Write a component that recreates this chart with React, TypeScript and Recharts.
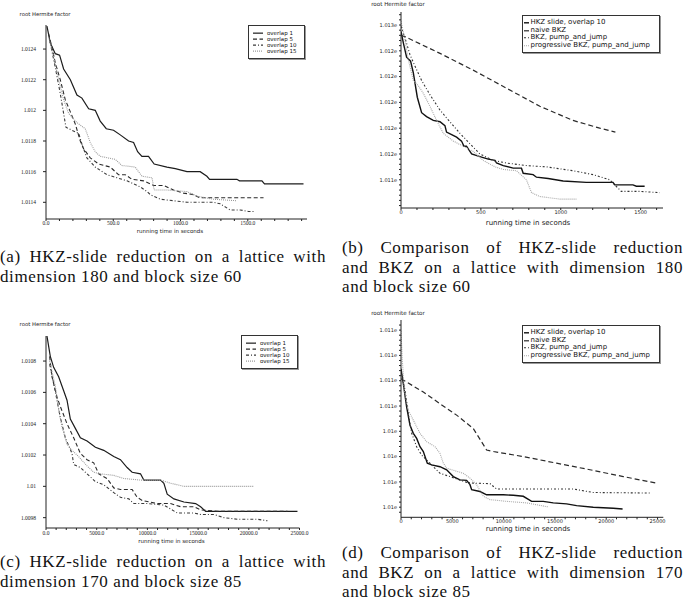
import { LineChart, Line, XAxis, YAxis, Legend } from 'recharts'

type Pt = [number, number]
type Series = { name: string; data: Pt[]; stroke: string; dash?: string; width: number }

// (a) dimension 180, block size 60 — [seconds, root Hermite factor]
const aOverlap1: Pt[] = [[7, 1.01255], [32, 1.01244], [69, 1.01237], [101, 1.01236], [131, 1.01227], [181, 1.0122], [230, 1.0121], [267, 1.01208], [317, 1.01201], [366, 1.012], [403, 1.01193], [448, 1.01188], [502, 1.01187], [552, 1.01184], [614, 1.0118], [651, 1.01179], [681, 1.01173], [713, 1.0117], [762, 1.0117], [804, 1.01165], [899, 1.01163], [961, 1.01162], [1048, 1.0116], [1146, 1.0116], [1196, 1.01157], [1216, 1.01155], [1419, 1.01155], [1438, 1.01154], [1605, 1.01154], [1624, 1.01152], [1914, 1.01152]]
const aOverlap5: Pt[] = [[19, 1.0125], [45, 1.01241], [69, 1.01231], [106, 1.0122], [143, 1.01207], [181, 1.01199], [218, 1.01191], [255, 1.0118], [279, 1.01175], [329, 1.01169], [391, 1.01165], [478, 1.01163], [539, 1.01158], [589, 1.01158], [639, 1.01155], [725, 1.01154], [800, 1.01151], [874, 1.01151], [948, 1.01148], [1022, 1.01146], [1097, 1.01145], [1141, 1.01143], [1295, 1.01143], [1617, 1.01143]]
const aOverlap10: Pt[] = [[27, 1.01246], [69, 1.01228], [106, 1.01211], [131, 1.01198], [148, 1.01189], [193, 1.01187], [243, 1.01185], [267, 1.01178], [304, 1.01169], [366, 1.01163], [453, 1.01158], [527, 1.01156], [602, 1.01154], [701, 1.0115], [751, 1.01147], [775, 1.01145], [849, 1.01142], [948, 1.01141], [1048, 1.0114], [1245, 1.0114], [1295, 1.01139], [1369, 1.01135], [1443, 1.01135], [1505, 1.01134], [1555, 1.01134]]
const aOverlap15: Pt[] = [[19, 1.01248], [57, 1.01235], [94, 1.0122], [131, 1.01207], [168, 1.01198], [230, 1.01192], [292, 1.01188], [329, 1.01179], [366, 1.01173], [403, 1.0117], [515, 1.01168], [564, 1.01164], [663, 1.01163], [713, 1.01157], [788, 1.01156], [804, 1.01148], [899, 1.01148], [1048, 1.01147], [1122, 1.01144], [1245, 1.01142], [1419, 1.01141]]

// (b) comparison, dimension 180
const bHkz: Pt[] = [[0, 1.01295], [15, 1.01286], [35, 1.01275], [60, 1.01272], [77, 1.01263], [102, 1.01244], [129, 1.01232], [160, 1.01229], [202, 1.01226], [244, 1.01225], [275, 1.01222], [285, 1.01217], [317, 1.01215], [348, 1.01213], [379, 1.0121], [394, 1.01206], [410, 1.01206], [442, 1.012], [494, 1.01198], [546, 1.01196], [588, 1.01195], [598, 1.01193], [640, 1.01191], [702, 1.01189], [754, 1.01189], [765, 1.01185], [827, 1.01184], [848, 1.01182], [921, 1.01181], [1015, 1.01179], [1160, 1.01178], [1327, 1.01178], [1338, 1.01176], [1452, 1.01176], [1473, 1.01175], [1525, 1.01175]]
const bNaive: Pt[] = [[0, 1.01292], [25, 1.01291], [244, 1.01278], [452, 1.01265], [660, 1.01251], [869, 1.01237], [1077, 1.01226], [1244, 1.0122], [1342, 1.01217]]
const bPump: Pt[] = [[0, 1.01299], [25, 1.0129], [56, 1.01277], [88, 1.01268], [129, 1.01257], [181, 1.01246], [244, 1.01234], [306, 1.01225], [369, 1.01216], [431, 1.01208], [494, 1.012], [577, 1.01195], [660, 1.01193], [785, 1.01191], [910, 1.0119], [1077, 1.01187], [1202, 1.01184], [1306, 1.0118], [1379, 1.01171], [1494, 1.01171], [1619, 1.0117]]
const bProg: Pt[] = [[0, 1.01303], [25, 1.01288], [46, 1.01273], [77, 1.01257], [108, 1.01253], [140, 1.01247], [181, 1.01237], [223, 1.01226], [265, 1.01216], [327, 1.0121], [390, 1.01206], [452, 1.01202], [515, 1.01195], [588, 1.0119], [640, 1.01188], [723, 1.01187], [785, 1.0118], [817, 1.0117], [869, 1.01167], [931, 1.01166], [994, 1.01165], [1098, 1.01165]]

// (c) dimension 170, block size 85
const cOverlap1: Pt[] = [[94, 1.01096], [424, 1.01083], [754, 1.01076], [1248, 1.0107], [1742, 1.01061], [2072, 1.01055], [2401, 1.01043], [2895, 1.01037], [3389, 1.01031], [4048, 1.01029], [4871, 1.01025], [5695, 1.01023], [6683, 1.01019], [7342, 1.01017], [8001, 1.01012], [8495, 1.01009], [9319, 1.01008], [9648, 1.01004], [11295, 1.01004], [11625, 1.01002], [11954, 1.00995], [12613, 1.00992], [13601, 1.0099], [14754, 1.00989], [15248, 1.00987], [15742, 1.00984], [24800, 1.00984]]
const cOverlap5: Pt[] = [[358, 1.01083], [589, 1.0107], [1083, 1.01057], [1412, 1.01051], [2072, 1.0104], [2730, 1.01031], [3389, 1.01021], [4048, 1.01017], [4707, 1.01015], [5201, 1.01008], [6025, 1.01005], [6683, 1.00999], [7342, 1.00998], [8495, 1.00998], [8989, 1.00993], [9483, 1.00991], [10966, 1.00989], [12284, 1.00989], [13272, 1.00987], [14590, 1.00987], [15248, 1.00985], [16895, 1.00984], [23813, 1.00984]]
const cOverlap10: Pt[] = [[358, 1.01078], [754, 1.01066], [1083, 1.01055], [1412, 1.01044], [1907, 1.01031], [2566, 1.01021], [2730, 1.01014], [3389, 1.01012], [4048, 1.01008], [4871, 1.01003], [5695, 1.01001], [6683, 1.00996], [7342, 1.00993], [8166, 1.00992], [8660, 1.00989], [9978, 1.00989], [11625, 1.00988], [12943, 1.00983], [14590, 1.00983], [15248, 1.00982], [16566, 1.00982], [17554, 1.0098], [18872, 1.00979], [20849, 1.00979], [21837, 1.00978]]
const cOverlap15: Pt[] = [[358, 1.0108], [919, 1.01064], [1248, 1.01049], [1577, 1.01038], [2072, 1.01027], [2566, 1.01023], [3224, 1.01019], [4048, 1.01013], [4707, 1.01009], [5366, 1.01008], [6683, 1.01007], [7671, 1.01005], [9319, 1.01004], [11295, 1.01004], [12284, 1.01002], [13601, 1.01], [15248, 1.01], [18542, 1.01], [20518, 1.01]]

// (d) comparison, dimension 170
const dHkz: Pt[] = [[0, 1.011247], [227, 1.011188], [552, 1.011096], [877, 1.011024], [1201, 1.010992], [1526, 1.010972], [1851, 1.010939], [2175, 1.01092], [2565, 1.010874], [2987, 1.010867], [3799, 1.01086], [4448, 1.010848], [5098, 1.010821], [5747, 1.010808], [6397, 1.010806], [6721, 1.010789], [6884, 1.010769], [7695, 1.010762], [8345, 1.010749], [9968, 1.010749], [10942, 1.010747], [11916, 1.010743], [12728, 1.010723], [13864, 1.010723], [14839, 1.010717], [16137, 1.010713], [17111, 1.010706], [18735, 1.0107], [20683, 1.010696], [21592, 1.010693]]
const dNaive: Pt[] = [[0, 1.011208], [2175, 1.011155], [3799, 1.011109], [5422, 1.011064], [7046, 1.011011], [8345, 1.010926], [8994, 1.01092], [11916, 1.0109], [15163, 1.010874], [18410, 1.010848], [21657, 1.010821], [24904, 1.010795]]
const dPump: Pt[] = [[0, 1.01124], [390, 1.011162], [714, 1.01107], [1039, 1.010992], [1526, 1.010939], [2013, 1.010906], [2500, 1.010887], [3150, 1.01086], [3799, 1.010834], [4773, 1.010821], [6397, 1.010798], [7046, 1.010795], [8670, 1.010793], [9319, 1.010772], [16787, 1.010772], [18735, 1.010758], [24255, 1.010756]]
const dProg: Pt[] = [[0, 1.011397], [130, 1.01128], [325, 1.011162], [714, 1.011083], [1201, 1.011044], [1851, 1.010992], [2500, 1.010959], [3312, 1.010939], [3799, 1.010913], [4124, 1.010874], [4448, 1.010854], [6072, 1.010834], [6721, 1.010815], [7371, 1.010789], [8020, 1.010743], [8670, 1.01073], [10293, 1.010723], [12241, 1.010717], [14351, 1.010701]]

// tick labels
const aXMajor = [0, 500, 1000, 1500]
const aXLabels = ['0.0', '500.0', '1000.0', '1500.0']
const aYMajor = [1.0114, 1.0116, 1.0118, 1.012, 1.0122, 1.0124]
const aYLabels = ['1.0114', '1.0116', '1.0118', '1.012', '1.0122', '1.0124']
const bXMajor = [0, 500, 1000, 1500]
const bXLabels = ['0', '500', '1000', '1500']
const bYMajor = [1.0118, 1.012, 1.0122, 1.0124, 1.0126, 1.0128, 1.013]
const bYLabels = ['1.011e', '1.012e', '1.012e', '1.012e', '1.012e', '1.012e', '1.013e']
const cXMajor = [0, 5000, 10000, 15000, 20000, 25000]
const cXLabels = ['0.0', '5000.0', '10000.0', '15000.0', '20000.0', '25000.0']
const cYMajor = [1.0098, 1.01, 1.0102, 1.0104, 1.0106, 1.0108]
const cYLabels = ['1.0098', '1.01', '1.0102', '1.0104', '1.0106', '1.0108']
const dXMajor = [0, 5000, 10000, 15000, 20000, 25000]
const dXLabels = ['0', '5000', '10000', '15000', '20000', '25000']
const dYMajor = [1.0107, 1.0108, 1.0109, 1.011, 1.0111, 1.0112, 1.0113, 1.0114]
const dYLabels = ['1.01e', '1.01e', '1.01e', '1.01e', '1.011e', '1.011e', '1.011e', '1.011e']

const steps = (from: number, step: number, n: number) => Array.from({ length: n }, (_, i) => from + i * step)
const labelFor = (ticks: number[], labels: string[]) => (v: number) => {
  const i = ticks.findIndex((t) => Math.abs(t - v) < 1e-9)
  return i < 0 ? '' : labels[i]
}
const rows = (pts: Pt[]) => pts.map(([x, y]) => ({ x, y }))

const overlapSeries = (o1: Pt[], o5: Pt[], o10: Pt[], o15: Pt[]): Series[] => [
  { name: 'overlap 1', data: o1, stroke: '#1c1c1c', width: 1.2 },
  { name: 'overlap 5', data: o5, stroke: '#2a2a2a', dash: '4 2.5', width: 1.1 },
  { name: 'overlap 10', data: o10, stroke: '#3a3a3a', dash: '3 2 1 2', width: 1.1 },
  { name: 'overlap 15', data: o15, stroke: '#9a9a9a', dash: '1 1', width: 1.1 },
]
const compareSeries = (hkz: Pt[], naive: Pt[], pump: Pt[], prog: Pt[]): Series[] => [
  { name: 'HKZ slide, overlap 10', data: hkz, stroke: '#111', width: 1.4 },
  { name: 'naive BKZ', data: naive, stroke: '#2a2a2a', dash: '5 3', width: 1.2 },
  { name: 'BKZ, pump_and_jump', data: pump, stroke: '#333', dash: '2 2 1 2', width: 1.1 },
  { name: 'progressive BKZ, pump_and_jump', data: prog, stroke: '#a8a8a8', dash: '1 1', width: 1.1 },
]

type LegendCfg = { left: number; top: number; width: number; height: number; font: number; row: number; sample: number; gap: number; padL: number; padT: number }

function LegendBox({ series, cfg }: { series: Series[]; cfg: LegendCfg }) {
  return (
    <div style={{ width: cfg.width, height: cfg.height, boxSizing: 'border-box', border: '1px solid #333', boxShadow: '1px 1px 0 #999', background: '#fff', paddingLeft: cfg.padL, paddingTop: cfg.padT, fontFamily: 'DejaVu Sans', fontSize: cfg.font, color: '#111' }}>
      {series.map((s) => (
        <div key={s.name} style={{ display: 'flex', alignItems: 'center', height: cfg.row, lineHeight: `${cfg.row}px`, whiteSpace: 'nowrap' }}>
          <svg width={cfg.sample} height={cfg.row} style={{ marginRight: cfg.gap, flexShrink: 0 }}>
            <line x1={0} x2={cfg.sample} y1={cfg.row / 2} y2={cfg.row / 2} stroke={s.stroke} strokeWidth={s.width} strokeDasharray={s.dash} />
          </svg>
          <span>{s.name}</span>
        </div>
      ))}
    </div>
  )
}

type PanelProps = {
  box: [number, number, number, number]
  plot: [number, number, number, number]
  yWidth: number
  xHeight: number
  xDomain: [number, number]
  yDomain: [number, number]
  xTicks: number[]
  yTicks: number[]
  xFmt: (v: number) => string
  yFmt: (v: number) => string
  tickFont: { fontSize: number; fontFamily: string }
  xTick: [number, number]
  yTick: [number, number]
  series: Series[]
  legend: LegendCfg
}

function Panel(p: PanelProps) {
  const [bl, bt, bw, bh] = p.box
  const [pl, pt, pr, pb] = p.plot
  const margin = { top: pt - bt, left: pl - bl - p.yWidth, right: bl + bw - pr, bottom: bt + bh - pb - p.xHeight }
  const tick = { ...p.tickFont, fill: '#222' }
  return (
    <div style={{ position: 'absolute', left: bl, top: bt }}>
      <LineChart width={bw} height={bh} margin={margin}>
        <XAxis type="number" dataKey="x" domain={p.xDomain} allowDataOverflow ticks={p.xTicks} interval={0} tickFormatter={p.xFmt} tick={tick} height={p.xHeight} tickSize={p.xTick[0]} tickMargin={p.xTick[1]} stroke="#222" />
        <YAxis type="number" domain={p.yDomain} allowDataOverflow ticks={p.yTicks} interval={0} tickFormatter={p.yFmt} tick={tick} width={p.yWidth} tickSize={p.yTick[0]} tickMargin={p.yTick[1]} stroke="#222" />
        <Legend layout="horizontal" align="center" verticalAlign="middle" wrapperStyle={{ left: p.legend.left - bl, top: p.legend.top - bt, width: p.legend.width, height: p.legend.height }} content={() => <LegendBox series={p.series} cfg={p.legend} />} />
        {p.series.map((s) => (
          <Line key={s.name} name={s.name} data={rows(s.data)} dataKey="y" type="linear" dot={false} stroke={s.stroke} strokeWidth={s.width} strokeDasharray={s.dash} isAnimationActive={false} />
        ))}
      </LineChart>
    </div>
  )
}

function Note({ x, y, size, text }: { x: number; y: number; size: number; text: string }) {
  return (
    <div style={{ position: 'absolute', left: x, top: y, transform: 'translate(-50%, -50%)', fontFamily: 'DejaVu Sans', fontSize: size, color: '#222', whiteSpace: 'nowrap', lineHeight: 1 }}>{text}</div>
  )
}

function Caption({ left, top, width, lines, justify }: { left: number; top: number; width: number; lines: string[]; justify: boolean[] }) {
  return (
    <div style={{ position: 'absolute', left, top, width, fontFamily: 'Liberation Serif', fontSize: 17, letterSpacing: 0.6, lineHeight: '19.5px', color: '#111' }}>
      {lines.map((l, i) => (
        <div key={i} style={{ textAlign: justify[i] ? 'justify' : 'left', textAlignLast: justify[i] ? 'justify' : 'left', whiteSpace: 'nowrap' }}>{l}</div>
      ))}
    </div>
  )
}

const smallSerif = { fontSize: 5.5, fontFamily: 'Liberation Serif' }
const smallSans = { fontSize: 5, fontFamily: 'DejaVu Sans' }
const legendSmall = { width: 57, height: 34, font: 5.5, row: 6.3, sample: 10, gap: 4, padL: 4, padT: 3.5 }
const legendWide = { width: 138, height: 38, font: 7, row: 7.6, sample: 5, gap: 1.5, padL: 1, padT: 3 }

export default function App() {
  return (
    <div style={{ position: 'absolute', left: 0, top: 0, width: 685, height: 614, background: '#fff', overflow: 'hidden' }}>
      <Panel box={[0, 0, 320, 240]} plot={[46, 25, 307, 219]} yWidth={46} xHeight={16} xDomain={[0, 1940]} yDomain={[1.011291, 1.012557]}
        xTicks={steps(0, 100, 20)} yTicks={aYMajor} xFmt={labelFor(aXMajor, aXLabels)} yFmt={labelFor(aYMajor, aYLabels)}
        tickFont={smallSerif} xTick={[2, 0]} yTick={[3, 7]} series={overlapSeries(aOverlap1, aOverlap5, aOverlap10, aOverlap15)}
        legend={{ left: 248, top: 25, ...legendSmall }} />
      <Panel box={[340, 0, 340, 236]} plot={[401, 12, 663, 208]} yWidth={40} xHeight={16} xDomain={[0, 1640]} yDomain={[1.011581, 1.013101]}
        xTicks={steps(0, 100, 17)} yTicks={steps(1.0116, 0.00004, 38)} xFmt={labelFor(bXMajor, bXLabels)} yFmt={labelFor(bYMajor, bYLabels)}
        tickFont={smallSans} xTick={[2, 0]} yTick={[2, 2]} series={compareSeries(bHkz, bNaive, bPump, bProg)}
        legend={{ left: 522, top: 15, ...legendWide }} />
      <Panel box={[0, 310, 320, 240]} plot={[46, 336, 299.5, 528]} yWidth={46} xHeight={16} xDomain={[0, 25000]} yDomain={[1.009734, 1.01096]}
        xTicks={steps(0, 1000, 26)} yTicks={cYMajor} xFmt={labelFor(cXMajor, cXLabels)} yFmt={labelFor(cYMajor, cYLabels)}
        tickFont={smallSerif} xTick={[2, 1]} yTick={[3, 7]} series={overlapSeries(cOverlap1, cOverlap5, cOverlap10, cOverlap15)}
        legend={{ left: 241, top: 335, ...legendSmall }} />
      <Panel box={[340, 310, 340, 230]} plot={[401, 320, 663.3, 517.3]} yWidth={40} xHeight={16} xDomain={[0, 25560]} yDomain={[1.01066, 1.01144]}
        xTicks={steps(0, 1000, 26)} yTicks={steps(1.01068, 0.00002, 38)} xFmt={labelFor(dXMajor, dXLabels)} yFmt={labelFor(dYMajor, dYLabels)}
        tickFont={smallSans} xTick={[2, 0]} yTick={[2, 2]} series={compareSeries(dHkz, dNaive, dPump, dProg)}
        legend={{ left: 522, top: 325, ...legendWide }} />

      <Note x={45} y={15.3} size={5.3} text="root Hermite factor" />
      <Note x={170} y={231.7} size={5.5} text="running time in seconds" />
      <Note x={398} y={4.5} size={5.6} text="root Hermite factor" />
      <Note x={528} y={222.5} size={7} text="running time in seconds" />
      <Note x={45} y={325.3} size={5.3} text="root Hermite factor" />
      <Note x={171.5} y={542.3} size={5.5} text="running time in seconds" />
      <Note x={398} y={314} size={5.6} text="root Hermite factor" />
      <Note x={528} y={529} size={7} text="running time in seconds" />

      <Caption left={0} top={247.25} width={326} lines={['(a) HKZ-slide reduction on a lattice with', 'dimension 180 and block size 60']} justify={[true, false]} />
      <Caption left={342} top={238.25} width={341} lines={['(b) Comparison of HKZ-slide reduction', 'and BKZ on a lattice with dimension 180', 'and block size 60']} justify={[true, true, false]} />
      <Caption left={0} top={552.25} width={326} lines={['(c) HKZ-slide reduction on a lattice with', 'dimension 170 and block size 85']} justify={[true, false]} />
      <Caption left={342} top={543.25} width={341} lines={['(d) Comparison of HKZ-slide reduction', 'and BKZ on a lattice with dimension 170', 'and block size 85']} justify={[true, true, false]} />
    </div>
  )
}
